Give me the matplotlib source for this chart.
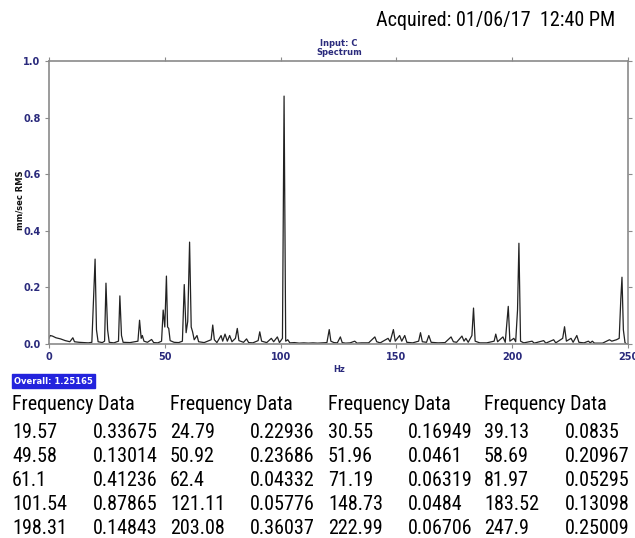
import matplotlib
matplotlib.use("Agg")
import matplotlib.pyplot as plt
from matplotlib import font_manager

# Spectrum trace (Hz, mm/sec RMS)
spectrum_hz = [0, 0.5, 1.5, 3, 5, 7, 9, 10.3, 11, 13, 15, 17, 18.5, 19.2, 19.9, 20.5, 21.2,
               23, 24, 24.6, 25.3, 26, 28, 30, 30.6, 31.3, 32, 35, 38.4, 39.1, 39.8, 40.3,
               41, 42.5, 44.3, 45.2, 47, 48.6, 49.3, 50, 50.7, 51.2, 51.7, 52.3, 54, 56,
               57.6, 58.4, 59.2, 59.9, 60.7, 61.4, 62, 62.7, 63.9, 64.6, 67, 70, 70.7, 71.4,
               72.5, 74.3, 75, 76, 77, 78, 79, 80.5, 81.3, 82, 84, 85.3, 86.2, 88, 90.3, 91,
               91.8, 94, 96, 97, 98.6, 99.5, 100.8, 101.5, 102.2, 103.1, 104, 106, 108, 110,
               112, 114, 116, 118, 120, 121, 121.7, 123, 124.5, 125.8, 126.6, 128, 130, 132,
               133, 135, 138, 140.7, 141.5, 143, 146.4, 147.3, 148.7, 149.5, 151.4, 152.3,
               153.6, 154.5, 157, 159.6, 160.4, 161.2, 163, 164, 165, 168, 171, 173.6, 174.6,
               176, 178.3, 179.2, 180, 181, 182.6, 183.3, 184, 186, 189, 192.2, 192.9, 193.7,
               196, 197, 198.3, 199, 200.7, 201.5, 202.3, 202.9, 203.6, 205, 208.6, 209.5,
               213.6, 214.5, 217.9, 218.8, 221.8, 222.6, 223.4, 225.4, 226.3, 227.9, 228.8,
               231, 232.9, 233.7, 234.6, 235.5, 239, 242, 243, 245, 246.2, 246.9, 247.4, 248,
               248.7, 249.3, 250]
spectrum_amp = [0.02, 0.03, 0.028, 0.022, 0.018, 0.012, 0.008, 0.022, 0.008, 0.006, 0.005,
                0.004, 0.006, 0.15, 0.30, 0.05, 0.008, 0.005, 0.01, 0.215, 0.05, 0.006, 0.004,
                0.01, 0.17, 0.03, 0.006, 0.005, 0.01, 0.084, 0.02, 0.03, 0.01, 0.006, 0.016,
                0.005, 0.004, 0.01, 0.12, 0.06, 0.24, 0.06, 0.055, 0.012, 0.006, 0.005, 0.01,
                0.21, 0.04, 0.08, 0.36, 0.06, 0.043, 0.015, 0.03, 0.008, 0.005, 0.015, 0.067,
                0.015, 0.005, 0.03, 0.01, 0.035, 0.01, 0.03, 0.008, 0.02, 0.055, 0.012, 0.006,
                0.018, 0.005, 0.004, 0.012, 0.043, 0.01, 0.005, 0.02, 0.008, 0.025, 0.005, 0.02,
                0.876, 0.01, 0.015, 0.004, 0.005, 0.003, 0.004, 0.003, 0.004, 0.003, 0.004,
                0.005, 0.051, 0.01, 0.005, 0.004, 0.025, 0.005, 0.003, 0.004, 0.01, 0.003,
                0.004, 0.004, 0.025, 0.008, 0.004, 0.02, 0.008, 0.051, 0.01, 0.03, 0.01, 0.03,
                0.006, 0.004, 0.01, 0.04, 0.008, 0.006, 0.03, 0.006, 0.004, 0.005, 0.025, 0.008,
                0.006, 0.028, 0.01, 0.02, 0.006, 0.03, 0.127, 0.01, 0.004, 0.004, 0.01, 0.035,
                0.008, 0.025, 0.006, 0.133, 0.01, 0.02, 0.008, 0.12, 0.356, 0.01, 0.004, 0.01,
                0.003, 0.012, 0.003, 0.015, 0.004, 0.02, 0.061, 0.01, 0.02, 0.006, 0.03, 0.006,
                0.004, 0.01, 0.004, 0.01, 0.003, 0.003, 0.015, 0.01, 0.015, 0.02, 0.16, 0.236,
                0.05, 0.005, 0.0, 0.0]

# Peak table printed under the chart, one list per column block
table_freq = [
    ["19.57", "49.58", "61.1", "101.54", "198.31"],
    ["24.79", "50.92", "62.4", "121.11", "203.08"],
    ["30.55", "51.96", "71.19", "148.73", "222.99"],
    ["39.13", "58.69", "81.97", "183.52", "247.9"],
]
table_data = [
    ["0.33675", "0.13014", "0.41236", "0.87865", "0.14843"],
    ["0.22936", "0.23686", "0.04332", "0.05776", "0.36037"],
    ["0.16949", "0.0461", "0.06319", "0.0484", "0.06706"],
    ["0.0835", "0.20967", "0.05295", "0.13098", "0.25009"],
]

overall = "1.25165"
acquired = "Acquired: 01/06/17  12:40 PM"
x_ticks = [0, 50, 100, 150, 200, 250]
y_ticks = [0.0, 0.2, 0.4, 0.6, 0.8, 1.0]

# pick a narrow face for the table text if one is installed
names = set(f.name for f in font_manager.fontManager.ttflist)
narrow = None
for cand in ["Liberation Sans Narrow", "Roboto Condensed", "Open Sans Condensed",
             "DejaVu Sans Condensed", "Roboto", "Lato"]:
    if cand in names:
        narrow = cand
        break
if narrow is None:
    narrow = "DejaVu Sans"
tbl_kw = dict(family=[narrow, "DejaVu Sans"], fontsize=14.5, color="black")

navy = "#2a2a7c"
W, H = 635, 538
fig = plt.figure(figsize=(W / 100, H / 100), dpi=100)
fig.patch.set_facecolor("white")

def fx(px):
    return px / W

def fy(py):
    return 1 - py / H

ax = fig.add_axes([fx(49), fy(344), fx(628) - fx(49), fy(61) - fy(344)])
ax.plot(spectrum_hz, spectrum_amp, color="#222222", lw=0.9)
ax.set_xlim(0, 250)
ax.set_ylim(0, 1.0)
ax.set_xticks(x_ticks)
ax.set_yticks(y_ticks)
ax.set_xticklabels([str(t) for t in x_ticks])
ax.set_yticklabels(["%.1f" % t for t in y_ticks])
for s in ax.spines.values():
    s.set_color("#8a8a8a")
    s.set_linewidth(1.2)
ax.tick_params(direction="out", length=3, width=0.8, color="#8a8a8a",
               top=True, right=True, labelsize=7, labelcolor=navy, pad=3)
for lbl in ax.get_xticklabels() + ax.get_yticklabels():
    lbl.set_fontweight("bold")

fig.text(fx(20), fy(200), "mm/sec RMS", rotation=90, ha="center", va="center",
         fontsize=6, fontweight="bold", color="#111111")
fig.text(fx(339), fy(369), "Hz", ha="center", va="center",
         fontsize=6, fontweight="bold", color=navy)
fig.text(fx(339), fy(48), "Input: C\nSpectrum", ha="center", va="center",
         fontsize=6, fontweight="bold", color=navy, linespacing=0.95)
fig.text(fx(615), fy(21), acquired, ha="right", va="center", **tbl_kw)

fig.text(fx(14), fy(381), "Overall: " + overall, ha="left", va="center",
         fontsize=6, fontweight="bold", color="white",
         bbox=dict(boxstyle="square,pad=0.25", fc="#2323dd", ec="#2323dd"))

col_x = [12, 170, 328, 484]
val_x = [93, 250, 408, 565]
row_y = [433, 457, 481, 505, 528]
for c in range(4):
    fig.text(fx(col_x[c]), fy(405), "Frequency Data", ha="left", va="center", **tbl_kw)
    for r in range(5):
        fig.text(fx(col_x[c]), fy(row_y[r]), table_freq[c][r], ha="left", va="center", **tbl_kw)
        fig.text(fx(val_x[c]), fy(row_y[r]), table_data[c][r], ha="left", va="center", **tbl_kw)

fig.savefig("out.png", dpi=100, facecolor="white")
